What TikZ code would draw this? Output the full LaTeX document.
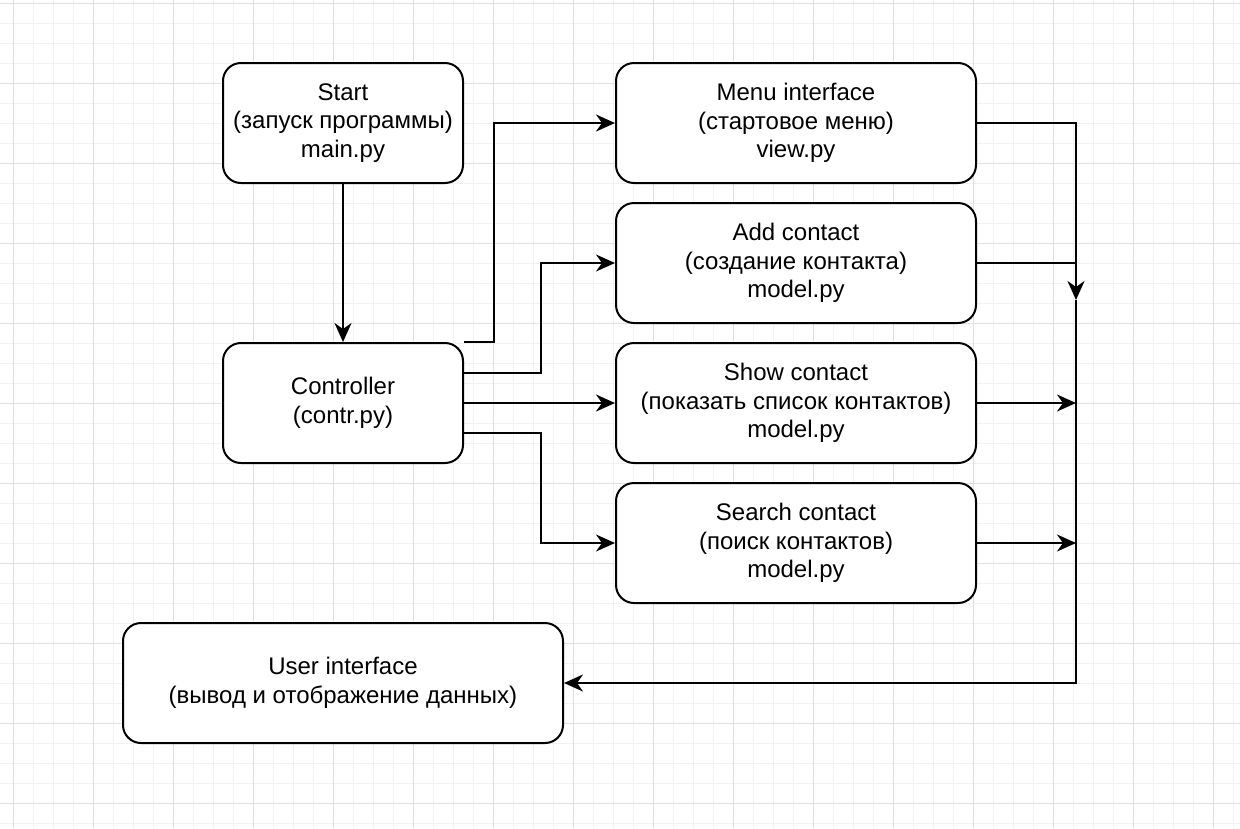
\documentclass[tikz,border=0pt]{standalone}
\usepackage{fontspec}
\setmainfont{Liberation Sans}
\usetikzlibrary{arrows.meta}
\definecolor{gridminor}{HTML}{F1F1F1}
\definecolor{gridmajor}{HTML}{E0E0E0}
\tikzset{
  box/.style={draw=black, line width=2pt, rounded corners=18pt, fill=white,
    minimum height=120pt, align=center, inner sep=0pt,
    font=\fontsize{24}{28.5}\selectfont},
  arr/.style={draw=black, line width=2pt, -{Stealth[length=19pt,width=17pt,inset=6pt]}},
  ln/.style={draw=black, line width=2pt},
}
\begin{document}
\begin{tikzpicture}[x=1pt,y=-1pt]
\useasboundingbox (0,0) rectangle (1240,828);
\fill[white] (0,0) rectangle (1240,828);
% grid
\foreach \i in {0,...,61} {
  \draw[gridminor, line width=1pt] (13+20*\i,0) -- (13+20*\i,828);
}
\foreach \i in {0,...,41} {
  \draw[gridminor, line width=1pt] (0,3+20*\i) -- (1240,3+20*\i);
}
\foreach \i in {0,...,15} {
  \draw[gridmajor, line width=1pt] (13+80*\i,0) -- (13+80*\i,828);
}
\foreach \i in {0,...,10} {
  \draw[gridmajor, line width=1pt] (0,3+80*\i) -- (1240,3+80*\i);
}
% nodes
\node[box, minimum width=240pt] (start) at (343,123) {Start\\(запуск программы)\\main.py};
\node[box, minimum width=240pt] (ctrl) at (343,403) {Controller\\(contr.py)};
\node[box, minimum width=360pt] (menu) at (796,123) {Menu interface\\(стартовое меню)\\view.py};
\node[box, minimum width=360pt] (add) at (796,263) {Add contact\\(создание контакта)\\model.py};
\node[box, minimum width=360pt] (show) at (796,403) {Show contact\\(показать список контактов)\\model.py};
\node[box, minimum width=360pt] (search) at (796,543) {Search contact\\(поиск контактов)\\model.py};
\node[box, minimum width=440pt] (ui) at (343,683) {User interface\\(вывод и отображение данных)};
\coordinate (j1) at (1076,300);
% connectors
\draw[arr] (start) -- (ctrl);
\draw[arr] (ctrl.north east) -- ++(30,0) |- (menu.west);
\draw[arr] ([yshift=30pt]ctrl.east) -- ++(77,0) |- (add.west);
\draw[arr] (ctrl.east) -- (show.west);
\draw[arr] ([yshift=-30pt]ctrl.east) -- ++(77,0) |- (search.west);
\draw[arr] (menu.east) -| (j1);
\draw[ln] (add.east) -- (add.east -| j1);
\draw[arr] (show.east) -- (show.east -| j1);
\draw[arr] (search.east) -- (search.east -| j1);
\draw[arr] (j1) |- (ui.east);
\end{tikzpicture}
\end{document}
